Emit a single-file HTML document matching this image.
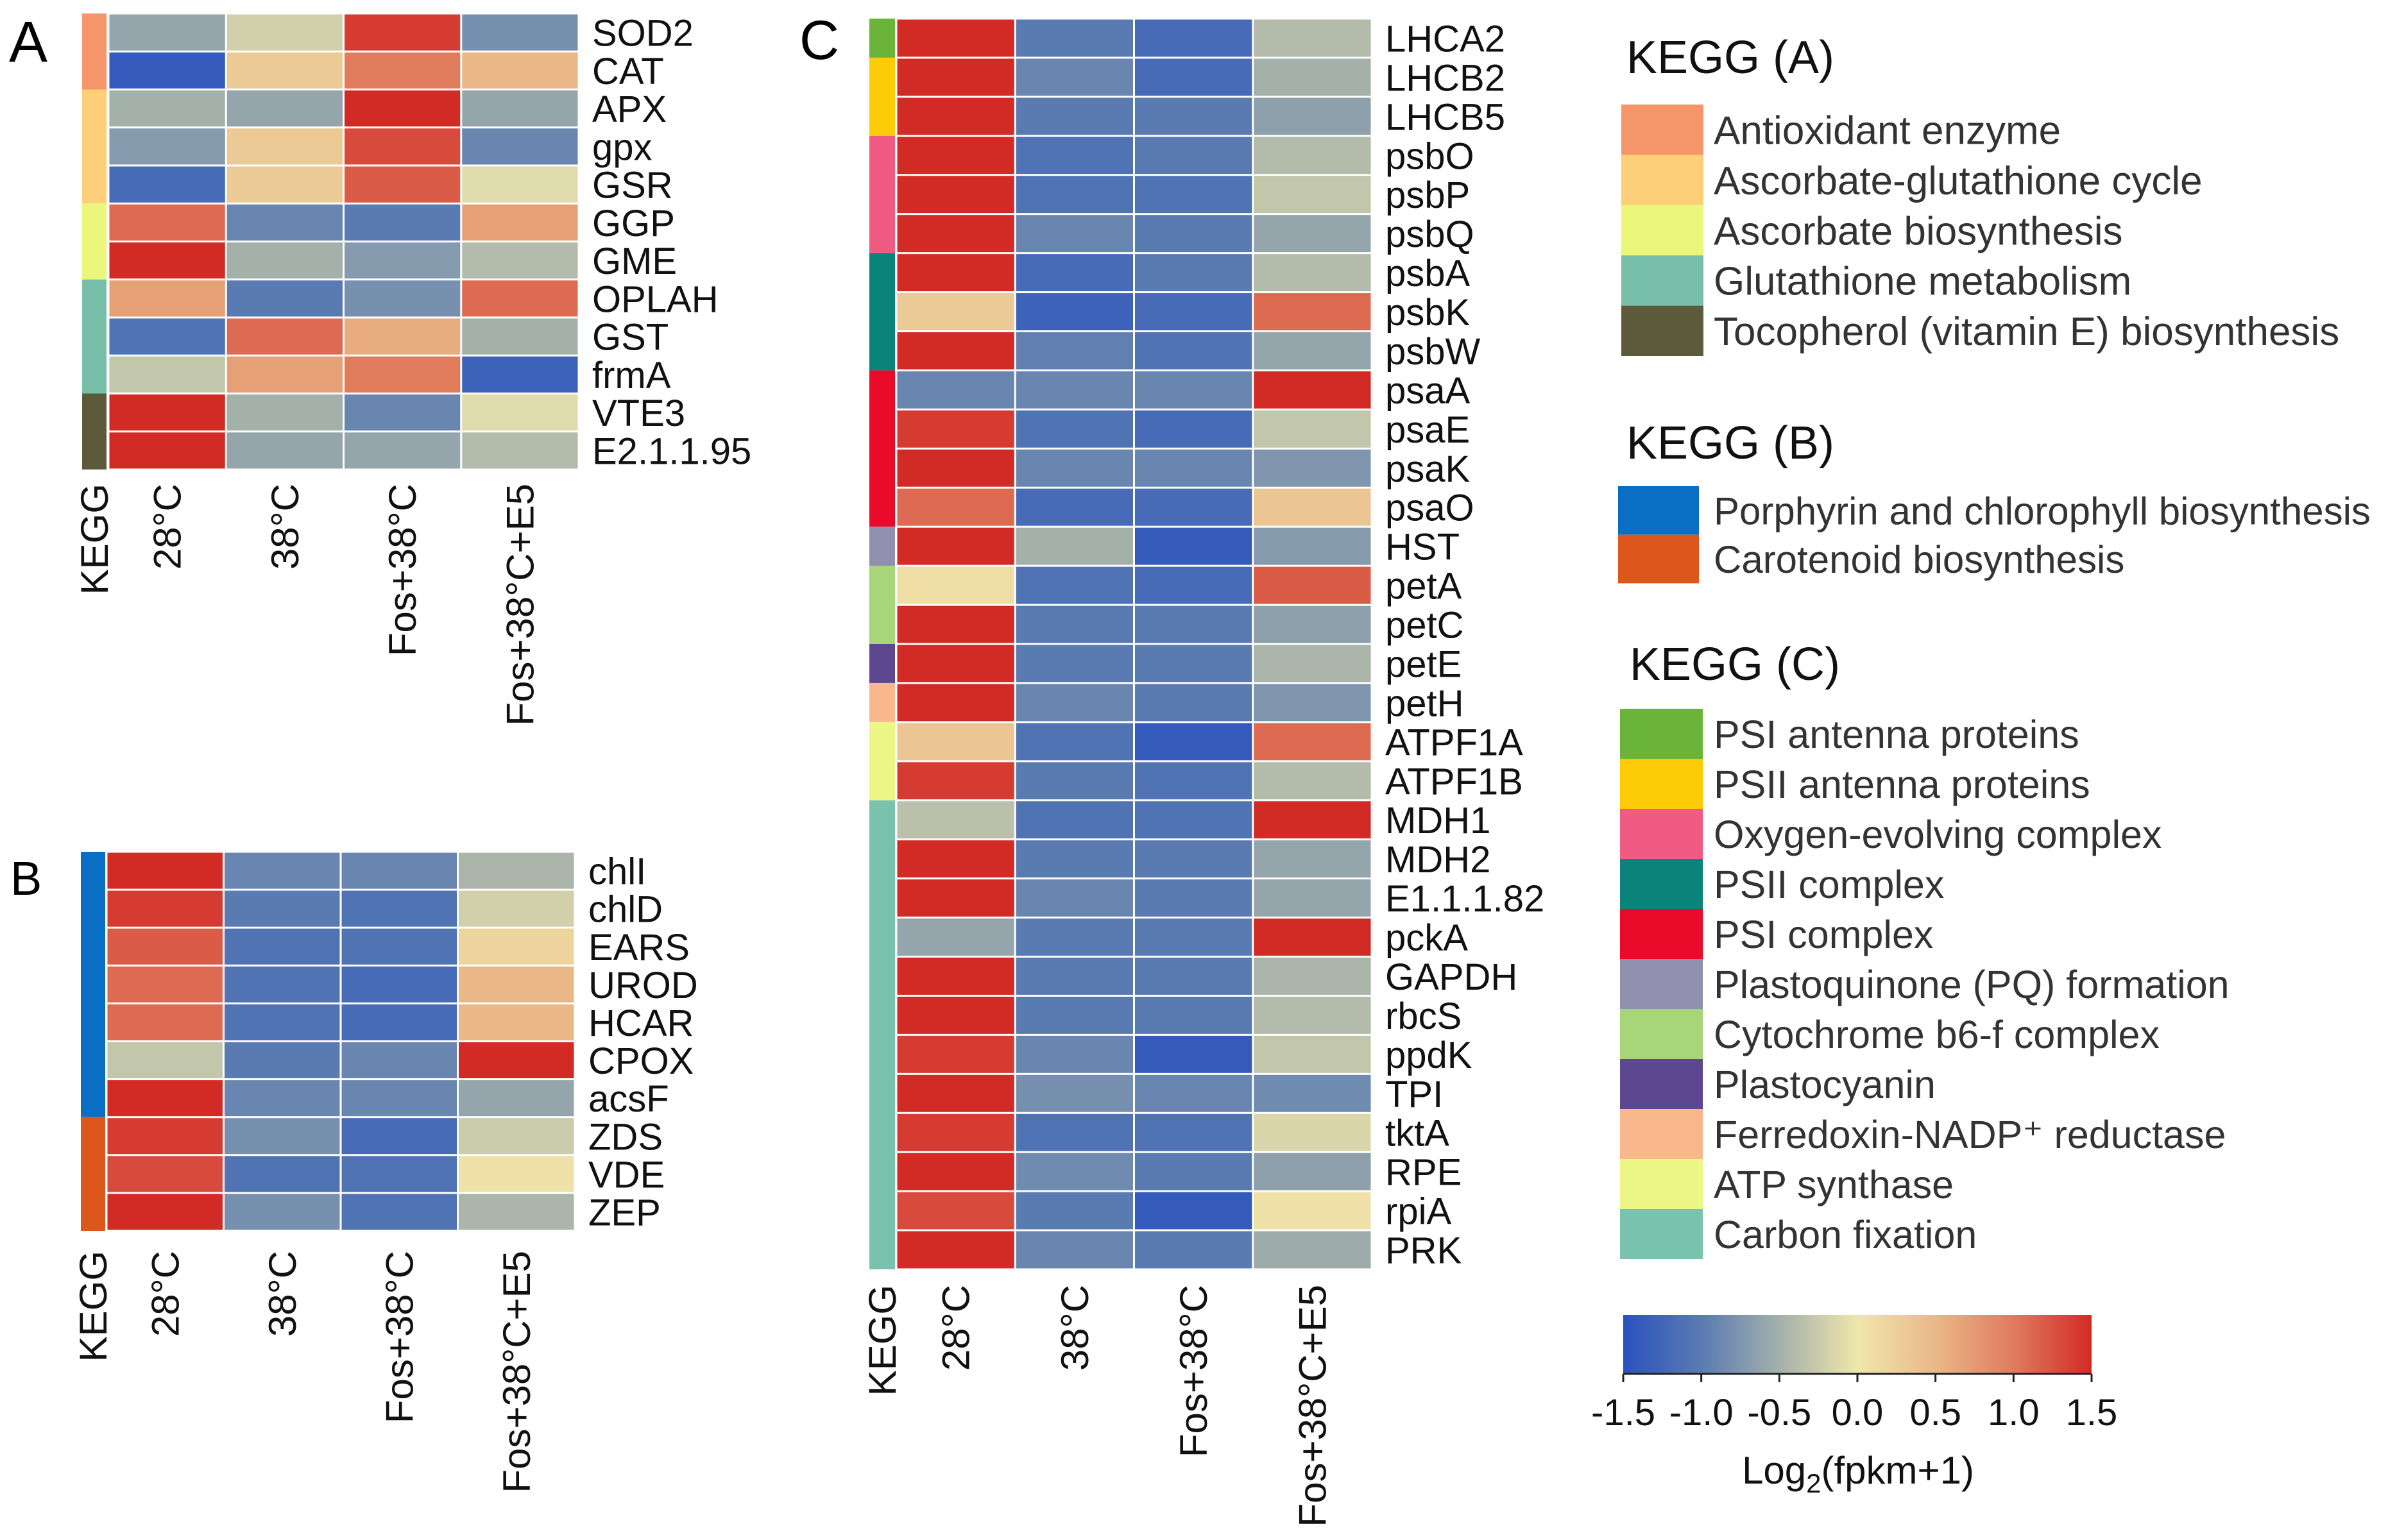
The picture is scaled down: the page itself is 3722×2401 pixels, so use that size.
<!DOCTYPE html>
<html><head><meta charset="utf-8"><style>
html,body{margin:0;padding:0;background:#fff;}
svg{display:block;font-family:"Liberation Sans",Arial,sans-serif;}
</style></head><body>
<svg id="fig" width="3722" height="2401" viewBox="0 0 3722 2401" xmlns="http://www.w3.org/2000/svg">
<rect width="3722" height="2401" fill="#fff"/>
</svg>
<script>
const conditions = ["28°C","38°C","Fos+38°C","Fos+38°C+E5"];
const genesA = ["SOD2","CAT","APX","gpx","GSR","GGP","GME","OPLAH","GST","frmA","VTE3","E2.1.1.95"];
const valuesA = [[-0.6,-0.2,1.4,-0.8],[-1.4,0.3,1.0,0.5],[-0.5,-0.6,1.5,-0.6],[-0.7,0.3,1.3,-0.9],[-1.2,0.3,1.2,-0.1],[1.1,-0.9,-1.0,0.7],[1.5,-0.5,-0.7,-0.4],[0.7,-1.0,-0.8,1.1],[-1.1,1.1,0.6,-0.5],[-0.3,0.7,1.0,-1.3],[1.5,-0.5,-0.9,-0.1],[1.5,-0.6,-0.6,-0.4]];
const groupsA = ["Antioxidant enzyme","Ascorbate-glutathione cycle","Ascorbate biosynthesis","Glutathione metabolism","Tocopherol (vitamin E) biosynthesis"];
const groupCountsA = [2,3,2,3,2];
const groupColorsA = ["#f5956a","#fccf78","#eaf77a","#78bfaa","#5c5a3a"];
const genesB = ["chlI","chlD","EARS","UROD","HCAR","CPOX","acsF","ZDS","VDE","ZEP"];
const valuesB = [[1.5,-0.9,-0.9,-0.45],[1.4,-1.0,-1.1,-0.2],[1.2,-1.1,-1.1,0.2],[1.1,-1.1,-1.2,0.5],[1.1,-1.1,-1.2,0.5],[-0.3,-1.0,-0.9,1.5],[1.5,-0.9,-0.9,-0.6],[1.4,-0.8,-1.2,-0.25],[1.3,-1.1,-1.1,0.05],[1.5,-0.8,-1.1,-0.45]];
const groupsB = ["Porphyrin and chlorophyll biosynthesis","Carotenoid biosynthesis"];
const groupCountsB = [7,3];
const groupColorsB = ["#0a6fc4","#dd561c"];
const genesC = ["LHCA2","LHCB2","LHCB5","psbO","psbP","psbQ","psbA","psbK","psbW","psaA","psaE","psaK","psaO","HST","petA","petC","petE","petH","ATPF1A","ATPF1B","MDH1","MDH2","E1.1.1.82","pckA","GAPDH","rbcS","ppdK","TPI","tktA","RPE","rpiA","PRK"];
const valuesC = [[1.5,-1.0,-1.2,-0.4],[1.5,-0.9,-1.2,-0.5],[1.5,-1.0,-1.0,-0.65],[1.5,-1.1,-1.0,-0.4],[1.5,-1.1,-1.1,-0.3],[1.5,-0.9,-1.0,-0.6],[1.5,-1.2,-1.0,-0.4],[0.3,-1.3,-1.2,1.1],[1.5,-0.95,-1.1,-0.6],[-0.9,-0.9,-0.9,1.5],[1.4,-1.1,-1.2,-0.3],[1.5,-0.9,-0.9,-0.75],[1.1,-1.2,-1.2,0.35],[1.5,-0.5,-1.4,-0.7],[0.1,-1.1,-1.2,1.2],[1.5,-1.0,-1.0,-0.65],[1.5,-1.0,-1.0,-0.45],[1.5,-0.9,-1.0,-0.75],[0.35,-1.1,-1.4,1.1],[1.4,-1.0,-1.1,-0.4],[-0.35,-1.1,-1.1,1.5],[1.5,-1.0,-1.0,-0.6],[1.5,-0.9,-1.0,-0.6],[-0.6,-1.0,-1.0,1.5],[1.5,-1.0,-1.0,-0.45],[1.5,-1.0,-1.0,-0.4],[1.4,-0.9,-1.4,-0.3],[1.5,-0.8,-0.9,-0.85],[1.4,-1.1,-1.1,-0.15],[1.5,-0.85,-1.0,-0.65],[1.3,-1.0,-1.4,0.05],[1.5,-0.9,-1.0,-0.55]];
const groupsC = ["PSI antenna proteins","PSII antenna proteins","Oxygen-evolving complex","PSII complex","PSI complex","Plastoquinone (PQ) formation","Cytochrome b6-f complex","Plastocyanin","Ferredoxin-NADP⁺ reductase","ATP synthase","Carbon fixation"];
const groupCountsC = [1,2,3,3,4,1,2,1,1,2,12];
const groupColorsC = ["#6ab43a","#fdcb08","#ef5b82","#0a837a","#ea0a2a","#9090ae","#a8d47a","#5c4790","#f8b88c","#ecf786","#78c2ae"];
const colorTicks = [-1.5,-1.0,-0.5,0.0,0.5,1.0,1.5];
const cmapStops = [[-1.5,"#2a52be"],[-1.0,"#5a7bb2"],[-0.5,"#a4b0aa"],[0.0,"#efe6ac"],[0.5,"#eab887"],[1.0,"#e07b5c"],[1.5,"#d22b26"]];

const NS="http://www.w3.org/2000/svg";
const svg=document.getElementById('fig');
function mk(tag,attrs,parent){const e=document.createElementNS(NS,tag);for(const k in attrs)e.setAttribute(k,attrs[k]);(parent||svg).appendChild(e);return e;}
function hex(h){return [1,3,5].map(i=>parseInt(h.substr(i,2),16));}
function cmap(v){v=Math.max(-1.5,Math.min(1.5,v));for(let i=0;i<cmapStops.length-1;i++){const[a,ca]=cmapStops[i],[b,cb]=cmapStops[i+1];if(v<=b){const t=(v-a)/(b-a),A=hex(ca),B=hex(cb);return 'rgb('+A.map((x,j)=>Math.round(x+(B[j]-x)*t)).join(',')+')';}}return cmapStops[cmapStops.length-1][1];}

function heatmap(p){
  const g=mk('g',{});
  
  
  const n=p.genes.length, rh=(p.y1-p.y0)/n, cw=(p.cx1-p.cx0)/conditions.length;
  const rowY=i=>p.y0+i*rh, colX=j=>p.cx0+j*cw;
  let r=0;
  p.counts.forEach((c,k)=>{
    const e=mk('rect',{x:p.kx0,y:rowY(r),width:p.kx1-p.kx0,height:c*rh,fill:p.colors[k]},g);
    
    
    r+=c;
  });
  p.values.forEach((row,i)=>{
    row.forEach((v,j)=>{
      const e=mk('rect',{x:colX(j)+1.5,y:rowY(i)+1.5,width:cw-3,height:rh-3,fill:cmap(v)},g);
      
      
    });
    const t=mk('text',{x:p.lx,y:rowY(i)+rh/2+21,'font-size':58,fill:'#111'},g);
    t.textContent=p.genes[i];
    
    
  });
  const labs=["KEGG"].concat(conditions);
  const cxs=[(p.kx0+p.kx1)/2].concat(conditions.map((c,j)=>colX(j)+cw/2));
  labs.forEach((l,j)=>{
    const t=mk('text',{transform:'translate('+(cxs[j]+21)+','+p.ct+') rotate(-90)','text-anchor':'end','font-size':60,fill:'#111'},g);
    t.textContent=l;
    
    
  });
  const L=mk('text',{x:p.px,y:p.py,'font-size':p.ps,fill:'#000'},g);
  L.textContent=p.letter;
  
  
}
heatmap({name:'heatmap-a',genes:genesA,values:valuesA,counts:groupCountsA,colors:groupColorsA,kx0:128,kx1:166,cx0:169,cx1:902,y0:21,y1:732,lx:923,ct:754,letter:'A',px:14,py:96,ps:90});
heatmap({name:'heatmap-b',genes:genesB,values:valuesB,counts:groupCountsB,colors:groupColorsB,kx0:126,kx1:164,cx0:166,cx1:896,y0:1328,y1:1919,lx:917,ct:1950,letter:'B',px:16,py:1395,ps:74});
heatmap({name:'heatmap-c',genes:genesC,values:valuesC,counts:groupCountsC,colors:groupColorsC,kx0:1355,kx1:1395,cx0:1397,cx1:2138,y0:29,y1:1979,lx:2159,ct:2003,letter:'C',px:1246,py:92,ps:86});

function legend(name,title,tx,ty,groups,colors,sx0,sx1,sy0,sh,fs){
  const g=mk('g',{});
  
  
  const T=mk('text',{x:tx,y:ty,'font-size':72,fill:'#111'},g);T.textContent=title;
  
  
  groups.forEach((s,i)=>{
    const r=mk('rect',{x:sx0,y:sy0+i*sh,width:sx1-sx0,height:sh,fill:colors[i]},g);
    
    
    const t=mk('text',{x:2671,y:sy0+i*sh+sh/2+fs*0.36,'font-size':fs,fill:'#333'},g);t.textContent=s;
    
    
  });
}
legend('legend-kegg-a','KEGG (A)',2535,114,groupsA,groupColorsA,2527,2655,163,78.4,62);
legend('legend-kegg-b','KEGG (B)',2535,715,groupsB,groupColorsB,2522,2648,758,75.7,60);
legend('legend-kegg-c','KEGG (C)',2540,1060,groupsC,groupColorsC,2525,2654,1105,78,61);

const defs=mk('defs',{});
const lg=mk('linearGradient',{id:'cb',x1:0,x2:1,y1:0,y2:0},defs);
cmapStops.forEach(s=>mk('stop',{offset:((s[0]+1.5)/3*100)+'%','stop-color':s[1]},lg));
const cbg=mk('g',{});


const cbx0=2530,cbx1=3260,cby0=2050,cby1=2142;
mk('rect',{x:cbx0,y:cby0,width:cbx1-cbx0,height:cby1-cby0,fill:'url(#cb)'},cbg);
mk('line',{x1:cbx0,x2:cbx1,y1:cby1,y2:cby1,stroke:'#222','stroke-width':3},cbg);
const cbX=v=>cbx0+(v+1.5)/3*(cbx1-cbx0);
colorTicks.forEach(v=>{
  mk('line',{x1:cbX(v),x2:cbX(v),y1:cby1,y2:cby1+13,stroke:'#222','stroke-width':3},cbg);
  const t=mk('text',{x:cbX(v),y:2222,'text-anchor':'middle','font-size':58,fill:'#111'},cbg);
  t.textContent=v.toFixed(1);
  
  
});
const ct=mk('text',{x:2896,y:2313,'text-anchor':'middle','font-size':60,fill:'#111'},cbg);
ct.innerHTML='Log<tspan font-size="42" dy="14">2</tspan><tspan dy="-14">(fpkm+1)</tspan>';


</script>
</body></html>
